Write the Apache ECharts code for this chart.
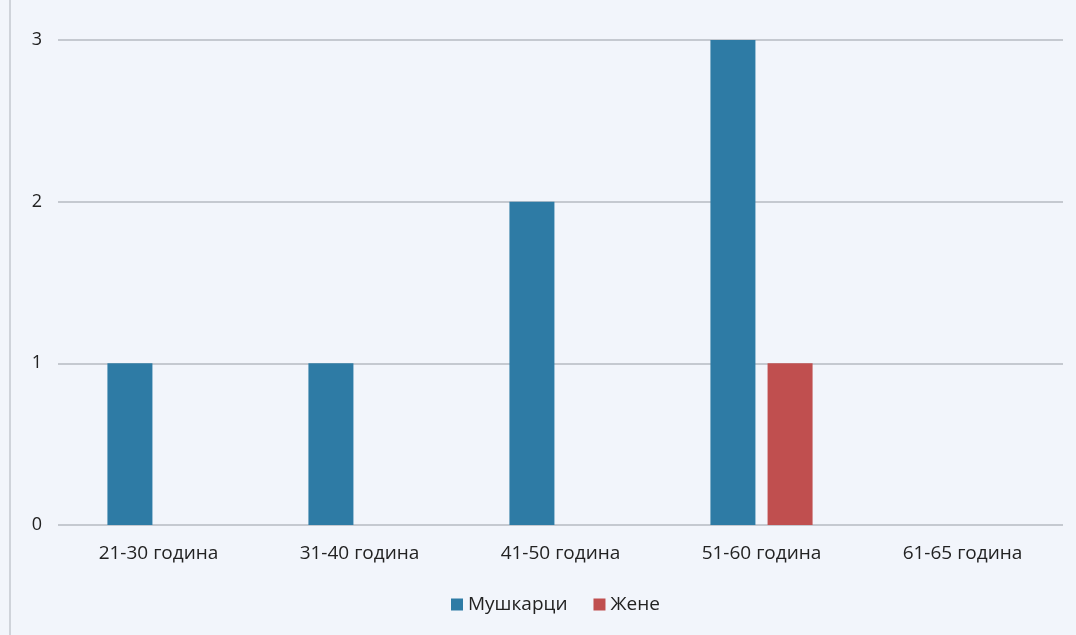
<!DOCTYPE html>
<html>
<head>
<meta charset="utf-8">
<style>
  html, body { margin: 0; padding: 0; background: #f2f5fb; }
  #chart { width: 1076px; height: 635px; }
</style>
<script src="https://cdn.jsdelivr.net/npm/echarts@6/dist/echarts.min.js"></script>
</head>
<body>
<div id="chart"></div>
<script>
// Age groups and counts per gender
const categories = ['21-30 година', '31-40 година', '41-50 година', '51-60 година', '61-65 година'];
const men = [1, 1, 2, 3, 0];
const women = [0, 0, 0, 1, 0];
const seriesNames = ['Мушкарци', 'Жене'];
const yTicks = [0, 1, 2, 3];

const font = '"Open Sans", "Noto Sans", sans-serif';
const chart = echarts.init(document.getElementById('chart'));
chart.setOption({
  backgroundColor: '#f2f5fb',
  animation: false,
  grid: { left: 58, right: 13, top: 40, bottom: 110 },
  legend: {
    bottom: 16,
    left: 446,
    itemWidth: 12,
    itemHeight: 12,
    itemGap: 26,
    icon: 'rect',
    textStyle: { fontFamily: font, fontSize: 19, color: '#222' },
    data: seriesNames
  },
  xAxis: {
    type: 'category',
    data: categories,
    axisLine: { show: false },
    axisTick: { show: false },
    axisLabel: { fontFamily: font, fontSize: 19, color: '#222', margin: 19 }
  },
  yAxis: {
    type: 'value',
    min: yTicks[0],
    max: yTicks[yTicks.length - 1],
    interval: 1,
    axisLine: { show: false },
    axisTick: { show: false },
    axisLabel: { fontFamily: font, fontSize: 18, color: '#222', margin: 16, align: 'right' },
    splitLine: { lineStyle: { color: '#c5c9d0', width: 2 } }
  },
  series: [
    {
      name: seriesNames[0], type: 'bar', data: men,
      barWidth: 45, barGap: '27%',
      itemStyle: { color: '#2e7ba5' }
    },
    {
      name: seriesNames[1], type: 'bar', data: women,
      barWidth: 45,
      itemStyle: { color: '#c04f4f' }
    }
  ],
  graphic: [
    { type: 'line', shape: { x1: 10, y1: 0, x2: 10, y2: 635 },
      style: { stroke: '#cfd3da', lineWidth: 2 } }
  ]
});
</script>
</body>
</html>
